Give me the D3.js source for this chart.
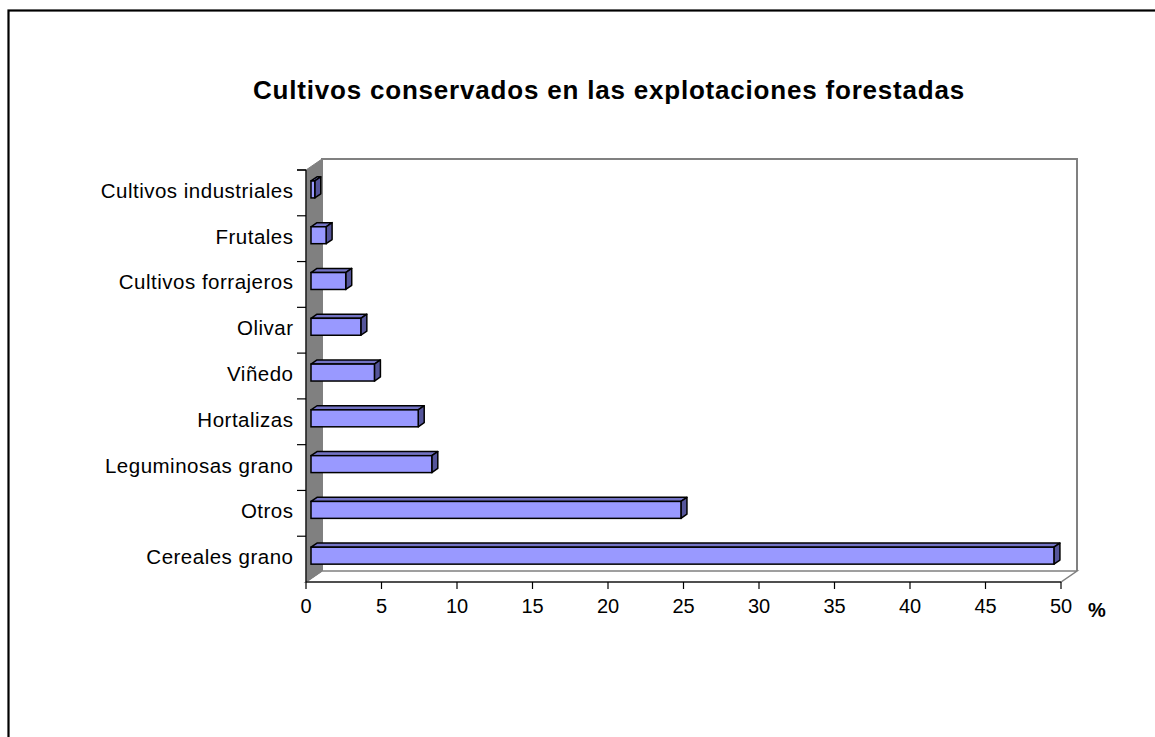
<!DOCTYPE html>
<html><head><meta charset="utf-8">
<script src="https://cdn.jsdelivr.net/npm/d3@7"></script>
<style>body{margin:0;background:#fff}svg{display:block}text{font-family:"Liberation Sans",Arial,sans-serif}</style>
</head><body><svg id="c" width="1155" height="737"></svg>
<script>
const title = "Cultivos conservados en las explotaciones forestadas";
const categories = ["Cereales grano","Otros","Leguminosas grano","Hortalizas","Viñedo","Olivar","Cultivos forrajeros","Frutales","Cultivos industriales"];
const values = [49.2, 24.5, 8.0, 7.1, 4.2, 3.3, 2.3, 1.0, 0.25];
const xTicks = [0,5,10,15,20,25,30,35,40,45,50];
const unitLabel = "%";

const svg = d3.select("#c");
svg.append("rect").attr("x",8.5).attr("y",10.5).attr("width",1200).attr("height",800)
  .attr("fill","none").attr("stroke","#000").attr("stroke-width",2.2);

const x = d3.scaleLinear().domain([0,50]).range([306,1061]);
const y = d3.scaleBand().domain(categories).range([582,170]).paddingInner(0).paddingOuter(0);
const DX = 16, DY = -11; // full depth
const f0 = 5/16, bd = 6/16;

svg.append("text").attr("x",609).attr("y",99).attr("text-anchor","middle")
  .attr("font-size",26).attr("letter-spacing",0.8).attr("font-weight","bold").text(title);

const x0 = x(0), x1 = x(50), yt = y.range()[1], yb = y.range()[0];
// back wall
svg.append("polyline").attr("points",`${x0+DX},${yb+DY} ${x0+DX},${yt+DY} ${x1+DX},${yt+DY} ${x1+DX},${yb+DY}`)
  .attr("fill","#fff").attr("stroke","#808080").attr("stroke-width",2);
// floor
svg.append("polygon").attr("points",`${x0},${yb} ${x0+DX},${yb+DY} ${x1+DX},${yb+DY} ${x1},${yb}`)
  .attr("fill","#fff").attr("stroke","#808080").attr("stroke-width",1.5);
// side wall
svg.append("polygon").attr("points",`${x0},${yb} ${x0},${yt} ${x0+DX},${yt+DY} ${x0+DX},${yb+DY}`)
  .attr("fill","#808080").attr("stroke","#808080").attr("stroke-width",1);

// axes
svg.append("line").attr("x1",x0).attr("x2",x1).attr("y1",yb).attr("y2",yb).attr("stroke","#000").attr("stroke-width",1.2);
svg.append("line").attr("x1",x0).attr("x2",x0).attr("y1",yt).attr("y2",yb).attr("stroke","#000").attr("stroke-width",1.2);
xTicks.forEach(t=>{
  svg.append("line").attr("x1",x(t)).attr("x2",x(t)).attr("y1",yb).attr("y2",yb+7).attr("stroke","#000").attr("stroke-width",1.2);
  svg.append("text").attr("x",x(t)).attr("y",613).attr("text-anchor","middle").attr("font-size",20).text(t);
});
svg.append("text").attr("x",1097).attr("y",617).attr("text-anchor","middle").attr("font-size",20).attr("font-weight","bold").text(unitLabel);
const bounds = categories.map(c=>y(c)).concat([yt]);
bounds.forEach(b=>{
  svg.append("line").attr("x1",x0-9).attr("x2",x0).attr("y1",b).attr("y2",b).attr("stroke","#000").attr("stroke-width",1.2);
});
categories.forEach(c=>{
  svg.append("text").attr("x",293.5).attr("y",y(c)+y.bandwidth()/2+5).attr("text-anchor","end")
    .attr("font-size",20.5).attr("letter-spacing",0.5).text(c);
});

// bars
const bw = y.bandwidth()*0.37;
const ox = DX*f0, oy = DY*f0, ddx = DX*bd, ddy = DY*bd;
const g = svg.append("g");
categories.forEach((c,i)=>{
  const v = values[i];
  const cy = y(c)+y.bandwidth()/2 + oy;
  const l = x(0)+ox, r = x(v)+ox, t = cy-bw/2, b = cy+bw/2;
  g.append("polygon").attr("points",`${l},${t} ${l+ddx},${t+ddy} ${r+ddx},${t+ddy} ${r},${t}`)
    .attr("fill","#7373c4").attr("stroke","#000").attr("stroke-width",1.5).attr("stroke-linejoin","round");
  g.append("polygon").attr("points",`${r},${t} ${r+ddx},${t+ddy} ${r+ddx},${b+ddy} ${r},${b}`)
    .attr("fill","#55559a").attr("stroke","#000").attr("stroke-width",1.5).attr("stroke-linejoin","round");
  g.append("rect").attr("x",l).attr("y",t).attr("width",r-l).attr("height",bw)
    .attr("fill","#9999ff").attr("stroke","#000").attr("stroke-width",1.5);
});
</script></body></html>
